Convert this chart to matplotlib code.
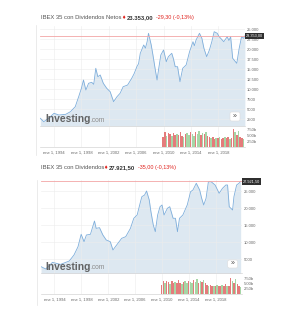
import matplotlib.pyplot as plt
import matplotlib.transforms as mtransforms
from matplotlib.patches import FancyBboxPatch
from matplotlib.lines import Line2D

plt.rcParams['font.family'] = ['Liberation Sans', 'DejaVu Sans']

# IBEX 35 con Dividendos Netos
net_t = [1992.0, 1992.5, 1993.2, 1994.0, 1994.7, 1995.7, 1996.4, 1997.1, 1997.6, 1998.0,
         1998.3, 1998.65, 1999.05, 1999.5, 1999.8, 2000.1, 2000.4, 2000.75, 2001.2, 2001.7,
         2002.2, 2002.7, 2003.2, 2003.65, 2004.1, 2004.75, 2005.35, 2005.7, 2006.1, 2006.35,
         2006.6, 2007.1, 2007.35, 2007.6, 2007.8, 2008.2, 2008.45, 2008.8, 2009.05, 2009.3,
         2009.6, 2010.0, 2010.2, 2010.4, 2010.7, 2011.2, 2011.45, 2011.7, 2012.05, 2012.4,
         2012.8, 2013.3, 2013.8, 2014.3, 2014.5, 2014.75, 2015.25, 2015.6, 2015.9, 2016.3,
         2016.7, 2017.05, 2017.4, 2017.85, 2018.1, 2018.35, 2018.8, 2019.3, 2019.55, 2019.8,
         2020.1, 2020.7, 2021.05, 2021.4, 2021.7, 2021.88]
net_v = [2750, 1900, 2750, 4000, 3575, 3740, 4400, 5650, 8150, 10250,
         12325, 9825, 11500, 11750, 11250, 15250, 13150, 13575, 11500, 10250,
         9400, 6900, 8150, 9000, 10650, 11075, 12750, 13900, 15650, 16400,
         19000, 21075, 20300, 21900, 24000, 21075, 18575, 14825, 12325, 15250,
         18575, 19825, 18400, 16900, 18150, 19000, 17600, 15650, 15650, 11900,
         15250, 16075, 19400, 21900, 20900, 22325, 24000, 22750, 20250, 18150,
         19825, 21900, 24400, 24000, 23200, 22750, 21900, 23150, 22200, 23150,
         17750, 16500, 20250, 23150, 22750, 23353]

# IBEX 35 con Dividendos
gross_t = [1992.0, 1992.7, 1993.7, 1994.9, 1996.2, 1996.9, 1997.5, 1997.97, 1998.4, 1998.75,
           1999.35, 1999.95, 2000.2, 2000.7, 2001.2, 2001.7, 2002.3, 2002.7, 2003.25, 2004.0,
           2004.6, 2005.3, 2005.8, 2006.3, 2006.8, 2007.0, 2007.4, 2007.7, 2008.1, 2008.35,
           2008.7, 2009.0, 2009.35, 2009.7, 2010.0, 2010.3, 2010.8, 2011.15, 2011.65, 2012.0,
           2012.3, 2012.6, 2013.1, 2013.75, 2014.25, 2014.6, 2015.1, 2015.6, 2015.9, 2016.2,
           2016.55, 2016.9, 2017.3, 2017.9, 2018.5, 2019.0, 2019.5, 2019.75, 2020.0, 2020.5,
           2020.7, 2021.1, 2021.45, 2021.7]
gross_v = [2830, 2150, 4100, 3500, 4500, 6260, 8700, 12350, 10180, 12150,
           12350, 16260, 14100, 14300, 12150, 10680, 10180, 7740, 9200, 11170,
           11650, 14100, 17060, 18030, 21940, 23410, 23900, 25090, 22440, 19000,
           15090, 13120, 18030, 20470, 20970, 18030, 20000, 20470, 17060, 17060,
           13120, 17060, 18030, 20970, 24880, 25380, 27350, 25380, 22940, 20970,
           22940, 27820, 27820, 26850, 24410, 25880, 26850, 26850, 20470, 19500,
           23410, 26850, 27350, 27921.5]

# volume (billions), quarterly from late 2009
vol_start = 2009.95
vol = [4.2, 6.4, 5.0, 6.0, 5.6, 4.8, 6.2, 5.4, 5.8, 5.2, 6.6, 5.0,
       4.6, 5.8, 6.0, 5.2, 6.4, 5.6, 5.0, 6.8, 5.8, 7.2, 5.4, 6.2,
       5.6, 6.6, 5.0, 4.4, 3.8, 4.2, 3.6, 4.0, 3.8, 4.4, 3.6, 4.0,
       4.2, 3.8, 4.6, 3.6, 4.0, 7.8, 6.4, 5.2, 7.0, 4.6, 4.0, 3.4]
vol_dir = "RRGRRGRRGRRRGRGGRGGRGGRGRGRRGRRGRGRRGRRGRRGRGRRG"

year_ticks = [1994, 1998, 2002, 2006, 2010, 2014, 2018]
year_labels = ["ene 1, %d" % y for y in year_ticks]
vol_ticks = [2.5, 5.0, 7.5]
vol_labels = ["2.50b", "5.00b", "7.50b"]

W, H = 300, 314
def rect(x0, y0, x1, y1):
    return [x0 / W, 1 - y1 / H, (x1 - x0) / W, (y1 - y0) / H]

fig = plt.figure(figsize=(3.0, 3.14), dpi=100)
fig.patch.set_facecolor('white')


def panel(box_main, box_vol, t, v, ylo, yhi, yt, yl, price, price_txt, vmax,
          title_y, title, change, name_end, logo_y, btn, border):
    ax = fig.add_axes(rect(*box_main))
    ax.set_facecolor('white')
    ax.grid(color='#ececec', lw=0.4, zorder=0)
    ax.fill_between(t, v, ylo, color='#c8dae9', alpha=0.62, lw=0, zorder=1)
    ax.plot(t, v, color='#7eaedb', lw=0.6, zorder=2)
    ax.axhline(price, color='#f2a5a5', lw=0.6, zorder=3)
    ax.set_xlim(1991.95, 2021.9)
    ax.set_ylim(ylo, yhi)
    ax.yaxis.tick_right()
    ax.set_yticks(yt)
    ax.set_yticklabels(yl, fontsize=3, color='#666666')
    ax.tick_params(axis='y', length=0, pad=1.2)
    ax.set_xticks(year_ticks)
    ax.tick_params(axis='x', length=0, labelbottom=False)
    for s in ['top', 'right', 'left']:
        ax.spines[s].set_visible(False)
    ax.spines['bottom'].set_color('#d5d5d5')
    ax.spines['bottom'].set_linewidth(0.5)
    tr = mtransforms.blended_transform_factory(ax.transAxes, ax.transData)
    ax.text(1.005, price, price_txt, transform=tr, ha='left', va='center', fontsize=2.8,
            color='white', zorder=10, clip_on=False,
            bbox=dict(boxstyle='square,pad=0.3', fc='#2f2f2f', ec='none'))

    axv = fig.add_axes(rect(*box_vol))
    axv.grid(axis='x', color='#ececec', lw=0.4, zorder=0)
    vt = [vol_start + 0.25 * i for i in range(len(vol))]
    cols = ['#e47b7b' if d == 'R' else '#a6d6a6' for d in vol_dir[:len(vol)]]
    axv.bar(vt, vol, width=0.22, color=cols, zorder=2)
    axv.set_xlim(1991.95, 2021.9)
    axv.set_ylim(0, vmax)
    axv.yaxis.tick_right()
    axv.set_yticks(vol_ticks)
    axv.set_yticklabels(vol_labels, fontsize=3, color='#666666')
    axv.tick_params(axis='y', length=0, pad=1.2)
    axv.set_xticks(year_ticks)
    axv.set_xticklabels(year_labels, fontsize=3, color='#666666')
    axv.tick_params(axis='x', length=0, pad=2.5)
    for s in ['top', 'right', 'left']:
        axv.spines[s].set_visible(False)
    axv.spines['bottom'].set_color('#d5d5d5')
    axv.spines['bottom'].set_linewidth(0.5)

    # title line
    fy = 1 - title_y / H
    fig.text(41 / W, fy, title, fontsize=4.2, color='#555555', va='center')
    fig.text((name_end + 2) / W, fy, '\u2666', fontsize=3.4, color='#e0201b', va='center',
             family='DejaVu Sans')
    fig.text((name_end + 7.5) / W, fy, price_txt, fontsize=4.2, color='#333333',
             fontweight='bold', va='center')
    fig.text((name_end + 36) / W, fy, change, fontsize=3.9, color='#e0201b', va='center')

    # logo
    ly = 1 - logo_y / H
    fig.text(45 / W, ly, 'Investing', fontsize=7.4, fontweight='bold', color='#555555',
             va='center', alpha=0.9)
    fig.text(90.5 / W, ly - 0.004, '.com', fontsize=4.8, color='#8a8a8a', va='center')

    # expand button
    bx0, by0, bx1, by1 = btn
    fig.add_artist(FancyBboxPatch((bx0 / W, 1 - by1 / H), (bx1 - bx0) / W, (by1 - by0) / H,
                                  boxstyle='round,pad=0,rounding_size=0.006',
                                  transform=fig.transFigure, fc='white', ec='#dddddd', lw=0.4))
    fig.text((bx0 + bx1) / 2 / W, 1 - (by0 + by1) / 2 / H, '\u00bb', fontsize=5,
             color='#444444', ha='center', va='center')

    bx, bt, bb = border
    fig.add_artist(Line2D([bx / W, bx / W], [1 - bt / H, 1 - bb / H], color='#e3e3e3', lw=0.5))
    return ax


panel((40, 26, 245, 126), (40, 127, 245, 147), net_t, net_v, 825, 25825,
      [2500, 5000, 7500, 10000, 12500, 15000, 17500, 20000, 22500, 25000],
      ['2500', '5000', '7500', '10.000', '12.500', '15.000', '17.500', '20.000', '22.500', '25.000'],
      23353, '23.353,00', 8.8, 17.3, 'IBEX 35 con Dividendos Netos', '-29,30 (-0,13%)', 119.5,
      119, (230, 112, 240, 121), (36, 25, 155))

panel((40.7, 180, 242, 273.3), (40.7, 274, 242, 294), gross_t, gross_v, 880, 28320,
      [5000, 10000, 15000, 20000, 25000],
      ['5000', '10.000', '15.000', '20.000', '25.000'],
      27921.5, '27.921,50', 9.5, 167.7, 'IBEX 35 con Dividendos', '-35,00 (-0,13%)', 101.5,
      266.7, (227.7, 260, 237.7, 268), (37, 180, 305))

fig.savefig('out.png', dpi=100)
